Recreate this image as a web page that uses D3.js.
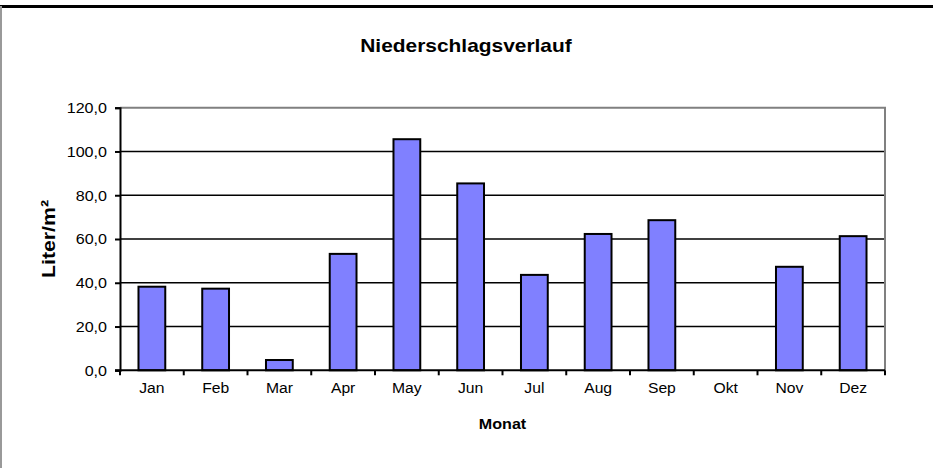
<!DOCTYPE html>
<html lang="de">
<head>
  <meta charset="utf-8">
  <title>Niederschlagsverlauf</title>
  <script src="https://d3js.org/d3.v7.min.js"></script>
  <style>
    html, body { margin: 0; padding: 0; background: #fff; }
    svg { display: block; }
    text { font-family: "Liberation Sans", Arial, sans-serif; fill: #000; }
  </style>
</head>
<body>
  <svg width="933" height="468"></svg>
  <script>
    // Monatswerte (Liter/m²)
    const months = ["Jan", "Feb", "Mar", "Apr", "May", "Jun", "Jul", "Aug", "Sep", "Okt", "Nov", "Dez"];
    const rain = [38.2, 37.3, 4.7, 53.2, 105.6, 85.4, 43.6, 62.3, 68.6, 0, 47.3, 61.3];
    const yTicks = [0, 20, 40, 60, 80, 100, 120];

    const svg = d3.select("svg");
    const W = 933, H = 468;
    const plot = { left: 120, right: 885, top: 107.7, bottom: 370.3 };

    // Schrift im Original ist etwas in die Breite gezogen
    function stretch(sel, k) {
      sel.each(function () {
        const len = this.getComputedTextLength();
        d3.select(this).attr("textLength", len * k).attr("lengthAdjust", "spacingAndGlyphs");
      });
    }

    // Rahmen
    svg.append("line").attr("x1", 0).attr("x2", W).attr("y1", 6.5).attr("y2", 6.5)
      .attr("stroke", "#000").attr("stroke-width", 3);
    svg.append("line").attr("x1", 1).attr("x2", 1).attr("y1", 6).attr("y2", H)
      .attr("stroke", "#999").attr("stroke-width", 2);

    const x = d3.scaleBand().domain(months).range([plot.left, plot.right]).paddingInner(0.58).paddingOuter(0.29);
    const xb = d3.scaleBand().domain(months).range([plot.left, plot.right]);
    const y = d3.scaleLinear().domain([0, 120]).range([plot.bottom, plot.top]);
    const fmt = v => d3.format(".1f")(v).replace(".", ",");

    // Gitterlinien
    svg.append("g").selectAll("line").data(yTicks.filter(t => t > 0 && t < 120)).join("line")
      .attr("x1", plot.left).attr("x2", plot.right)
      .attr("y1", d => y(d)).attr("y2", d => y(d))
      .attr("stroke", "#000").attr("stroke-width", 1.6);

    // Plotrahmen oben/rechts (grau)
    svg.append("path")
      .attr("d", `M${plot.left},${y(120)}H${plot.right}V${plot.bottom}`)
      .attr("fill", "none").attr("stroke", "#808080").attr("stroke-width", 2);

    // Balken
    svg.append("g").selectAll("rect").data(rain).join("rect")
      .attr("x", (d, i) => x(months[i]))
      .attr("width", x.bandwidth())
      .attr("y", d => y(d))
      .attr("height", d => y(0) - y(d))
      .attr("fill", "#8080ff")
      .attr("stroke", d => d > 0 ? "#000" : "none")
      .attr("stroke-width", 2);

    // Y-Achse
    const yAxis = svg.append("g")
      .attr("transform", `translate(${plot.left},0)`)
      .call(d3.axisLeft(y).tickValues(yTicks).tickFormat(fmt).tickSize(5).tickPadding(8));
    yAxis.select(".domain").attr("stroke", "#000").attr("stroke-width", 2);
    yAxis.selectAll(".tick line").attr("stroke", "#000").attr("stroke-width", 2);
    yAxis.selectAll(".tick text").attr("font-size", 14).attr("font-family", null).attr("dy", "0.35em");
    stretch(yAxis.selectAll(".tick text"), 1.15);

    // X-Achse
    const xAxis = svg.append("g")
      .attr("transform", `translate(0,${plot.bottom})`)
      .call(d3.axisBottom(xb).tickSize(0).tickPadding(13));
    xAxis.select(".domain").remove();
    xAxis.selectAll(".tick text").attr("font-size", 14).attr("font-family", null);
    stretch(xAxis.selectAll(".tick text"), 1.12);
    svg.append("line").attr("x1", plot.left - 5).attr("x2", plot.right)
      .attr("y1", plot.bottom).attr("y2", plot.bottom)
      .attr("stroke", "#000").attr("stroke-width", 2);
    svg.append("g").selectAll("line").data(d3.range(months.length + 1)).join("line")
      .attr("x1", i => plot.left + i * xb.step()).attr("x2", i => plot.left + i * xb.step())
      .attr("y1", plot.bottom).attr("y2", plot.bottom + 5)
      .attr("stroke", "#000").attr("stroke-width", 2);

    // Titel und Achsentitel
    const title = svg.append("text").attr("x", 466).attr("y", 52)
      .attr("text-anchor", "middle").attr("font-size", 19).attr("font-weight", "bold")
      .text("Niederschlagsverlauf");
    stretch(title, 1.1);
    const yTitle = svg.append("text").attr("transform", `translate(55,${(plot.top + plot.bottom) / 2}) rotate(-90)`)
      .attr("text-anchor", "middle").attr("font-size", 19).attr("font-weight", "bold")
      .text("Liter/m²");
    stretch(yTitle, 1.12);
    const xTitle = svg.append("text").attr("x", (plot.left + plot.right) / 2).attr("y", 429)
      .attr("text-anchor", "middle").attr("font-size", 14).attr("font-weight", "bold")
      .text("Monat");
    stretch(xTitle, 1.15);
  </script>
</body>
</html>
